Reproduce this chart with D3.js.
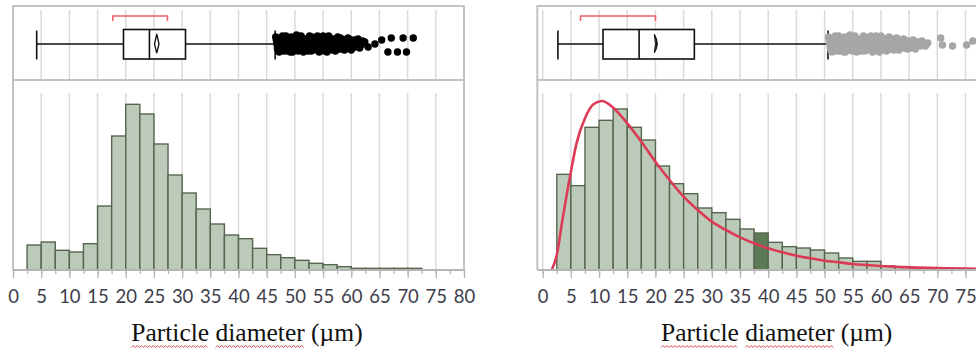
<!DOCTYPE html>
<html><head><meta charset="utf-8">
<script src="https://cdn.jsdelivr.net/npm/d3@7"></script>
<style>html,body{margin:0;padding:0;background:#fff;overflow:hidden}</style>
</head><body>
<svg id="chart" width="976" height="352"></svg>
<script>
// ---------- DATA ----------
const binLower = [2.5,5,7.5,10,12.5,15,17.5,20,22.5,25,27.5,30,32.5,35,37.5,40,42.5,45,47.5,50,52.5,55,57.5,60,62.5,65,67.5,70,72.5,75];
const binWidth = 2.5;
const leftCounts  = [75,84,59,54,79,192,402,497,468,378,285,231,183,138,105,94,65,46,37,29,20,16,10,5,5,5,5,5];
const rightCounts = [287,253,428,449,483,428,390,312,259,229,186,172,152,123,111,83,70,66,60,51,36,26,26,12,8,6,5,4,3,3];
const rightHighlightBin = 37.5;
const fitX = [1.6,2.5,3.5,5,6,7.5,9,10.5,12.5,15,17.5,20,22.5,25,27.5,30,32.5,35,37.5,40,42.5,45,47.5,50,52.5,55,60,65,70,75,80];
const fitY = [0,45,150,295,380,455,497,507,487,440,385,325,270,220,180,145,120,98,80,65,53,43,35,28,23,18,12,8,6,4,3];
const tickValues = [0,5,10,15,20,25,30,35,40,45,50,55,60,65,70,75,80];
const axisTitle = "Particle diameter (µm)";
// box plot summaries [lowWhisker, q1, median, q3, highWhisker], mean, mean CI, shortest half
const leftBox  = [4.2,19.6,24.2,30.6,46.5];
const leftMean = 25.5, leftMeanCI = [25.1,25.9];
const leftShortest = [17.7,27.4];
const rightBox = [2.7,10.7,17.1,26.9,50.6];
const rightMean = 20.2, rightMeanCI = [19.8,20.6];
const rightShortest = [6.7,20.0];
// outliers: [value, vertical jitter]
const leftOutliers = [[46.6,-7],[46.8,0],[47.0,6],[47.3,-3],[47.5,3],[47.8,-8],[48.0,7],[48.2,-1],[48.5,4],[48.7,-5],[49.0,1],[49.2,8],[49.4,-7],[49.7,-2],[49.9,5],[50.2,-6],[50.4,2],[50.6,7],[50.9,-3],[51.1,-8],[51.4,4],[51.6,0],[51.9,6],[52.1,-5],[52.4,2],[52.6,-8],[52.9,7],[53.1,-2],[53.4,4],[53.7,-6],[53.9,0],[54.2,6],[54.5,-4],[54.7,3],[55.0,-8],[55.3,7],[55.5,-1],[55.8,4],[56.1,-6],[56.4,1],[56.7,6],[57.0,-3],[57.3,3],[57.6,-7],[57.9,0],[58.3,5],[58.6,-4],[59.0,2],[59.4,-6],[59.8,4],[60.2,-2],[60.7,3],[61.2,-5],[61.8,1],[62.4,-2],[63.0,3],[64.2,0],[65.4,-4],[66.5,8],[67.1,-6],[68.2,8],[69.2,-6],[69.8,8],[71.0,-6],
  [46.7,-4],[46.9,4],[47.2,8],[47.4,-6],[47.7,1],[47.9,-2],[48.1,3],[48.4,-8],[48.6,7],[48.9,-3],[49.1,5],[49.3,-1],[49.6,8],[49.8,-5],[50.0,2],[50.3,-9],[50.5,6],[50.8,-1],[51.0,4],[51.3,-6],[51.5,8],[51.8,-3],[52.0,2],[52.3,7],[52.5,-4],[52.8,1],[53.0,-7],[53.3,6],[53.5,-1],[53.8,3],[54.0,-8],[54.3,8],[54.6,0],[54.9,-5],[55.2,5],[55.4,-3],[55.7,8],[56.0,-8],[56.2,3],[56.5,-2],[56.9,-5],[57.2,7],[57.5,-1],[57.8,5],[58.1,-6],[58.5,1],[58.8,6],[59.2,-2],[59.6,-5],[60.0,6],[60.5,-4],[61.0,1],[61.5,4],[62.0,-3]];
const rightOutliers = [[50.7,-7],[50.9,0],[51.1,6],[51.4,-3],[51.6,3],[51.9,-8],[52.1,7],[52.4,-1],[52.6,4],[52.9,-5],[53.1,1],[53.4,8],[53.6,-7],[53.9,-2],[54.1,5],[54.4,-6],[54.6,2],[54.9,7],[55.1,-3],[55.4,-8],[55.6,4],[55.9,0],[56.1,6],[56.4,-5],[56.6,2],[56.9,-8],[57.1,7],[57.4,-2],[57.6,4],[57.9,-6],[58.1,0],[58.4,6],[58.6,-4],[58.9,3],[59.1,-8],[59.4,7],[59.6,-1],[59.9,4],[60.1,-6],[60.4,1],[60.6,6],[60.9,-3],[61.1,3],[61.4,-7],[61.6,0],[61.9,5],[62.2,-4],[62.5,2],[62.8,-6],[63.1,4],[63.4,-2],[63.7,3],[64.0,-5],[64.4,1],[64.8,-3],[65.2,4],[65.6,-1],[66.0,3],[66.5,-2],[67.0,2],[67.6,0],[70.6,-6],[70.9,1],[72.7,2],[75.2,1],[76.3,-3],
  [50.8,-4],[51.0,4],[51.3,8],[51.5,-6],[51.8,1],[52.0,-2],[52.2,3],[52.5,-8],[52.7,7],[53.0,-3],[53.2,5],[53.5,-1],[53.7,8],[54.0,-5],[54.2,2],[54.5,-9],[54.7,6],[55.0,-1],[55.2,4],[55.5,-6],[55.7,8],[56.0,-3],[56.2,2],[56.5,7],[56.7,-4],[57.0,1],[57.2,-7],[57.5,6],[57.7,-1],[58.0,3],[58.2,-8],[58.5,8],[58.7,0],[59.0,-5],[59.2,5],[59.5,-3],[59.7,8],[60.0,-8],[60.2,3],[60.5,-2],[60.7,-5],[61.0,7],[61.2,-1],[61.5,5],[61.7,-6],[62.0,1],[62.3,6],[62.6,-2],[62.9,-5],[63.2,6],[63.5,-4],[63.8,1],[64.1,4],[64.4,-3],[64.7,5],[65.0,-1],[65.3,2],[65.7,-4],[66.1,5],[66.3,-2],[66.8,1],[67.3,-3],[67.9,2],[68.3,-1]];

// ---------- LAYOUT ----------
const W = 976;
const svg = d3.select("#chart");
const frameTop = 6, boxBottom = 80, histTop = 93, baseY = 270, boxCY = 44;
const y = d3.scaleLinear().domain([0,531]).range([baseY, histTop]);
const gridColor = "#dadada", frameColor = "#c3c3c3";

function panel(opts) {
  const {x, counts, outliers, box, mean, meanCI, shortest, frameL, frameR, outlierColor, fit, highlight, meanFilled} = opts;
  const g = svg.append("g");
  // gridlines
  const grid = tickValues.filter(v => x(v) > frameL + 2 && x(v) < frameR - 2);
  g.selectAll("line.gb").data(grid).join("line")
    .attr("x1", d => x(d)).attr("x2", d => x(d)).attr("y1", 10).attr("y2", boxBottom)
    .attr("stroke", gridColor).attr("stroke-width", 1.5);
  g.selectAll("line.gh").data(grid).join("line")
    .attr("x1", d => x(d)).attr("x2", d => x(d)).attr("y1", histTop).attr("y2", baseY)
    .attr("stroke", gridColor).attr("stroke-width", 1.5);
  // bars
  const bars = binLower.slice(0, counts.length).map((b, i) => ({b, v: counts[i]}));
  g.selectAll("rect.bar").data(bars).join("rect")
    .attr("x", d => x(d.b)).attr("width", d => x(d.b + binWidth) - x(d.b))
    .attr("y", d => y(d.v)).attr("height", d => baseY - y(d.v))
    .attr("fill", d => d.b === highlight ? "#5b7a55" : "#bccbb9")
    .attr("stroke", "#56654f").attr("stroke-width", 1.4);
  // fit curve
  if (fit) {
    const line = d3.line().x(d => x(d[0])).y(d => y(d[1])).curve(d3.curveMonotoneX);
    g.append("path").datum(fitX.map((v, i) => [v, fitY[i]]))
      .attr("d", line).attr("fill", "none").attr("stroke", "#dc3a55").attr("stroke-width", 2.6);
  }
  // axes
  const minor = d3.range(0, 81, 2.5).filter(v => x(v) >= frameL - 0.5 && x(v) < W);
  g.append("g").attr("transform", `translate(0,${baseY})`)
    .call(d3.axisBottom(x).tickValues(minor).tickSize(4).tickFormat(""))
    .call(a => a.select(".domain").remove())
    .call(a => a.selectAll("line").attr("stroke", "#b5b5b5").attr("stroke-width", 1.3));
  const major = tickValues.filter(v => x(v) < W);
  const ax = g.append("g").attr("transform", `translate(0,${baseY})`)
    .call(d3.axisBottom(x).tickValues(major).tickSize(8).tickPadding(11.5).tickFormat(d3.format("d")));
  ax.select(".domain").remove();
  ax.selectAll("line").attr("stroke", "#b5b5b5").attr("stroke-width", 1.3);
  ax.selectAll("text").attr("font-family", "Lato, 'Open Sans', sans-serif").attr("font-size", 18.5).attr("fill", "#3d3d4a");
  g.append("line").attr("x1", frameL).attr("x2", frameR).attr("y1", baseY).attr("y2", baseY)
    .attr("stroke", "#b5b5b5").attr("stroke-width", 2);
  // frame
  g.append("rect").attr("x", frameL).attr("y", frameTop).attr("width", frameR - frameL).attr("height", boxBottom - frameTop)
    .attr("fill", "none").attr("stroke", frameColor).attr("stroke-width", 2);
  g.append("path").attr("d", `M${frameL},${boxBottom}V${baseY}M${frameR},${boxBottom}V${baseY}`)
    .attr("stroke", frameColor).attr("stroke-width", 2).attr("fill", "none");
  // box plot
  const [lw, q1, md, q3, hw] = box;
  g.append("path").attr("d", `M${x(lw)},${boxCY}H${x(q1)}M${x(q3)},${boxCY}H${x(hw)}M${x(lw)},30.5V59.5M${x(hw)},30.5V59.5`)
    .attr("stroke", "#111").attr("stroke-width", 1.6).attr("fill", "none");
  g.append("rect").attr("x", x(q1)).attr("y", 29.5).attr("width", x(q3) - x(q1)).attr("height", 29.5)
    .attr("fill", "#fff").attr("stroke", "#111").attr("stroke-width", 1.6);
  g.append("line").attr("x1", x(md)).attr("x2", x(md)).attr("y1", 29.5).attr("y2", 59)
    .attr("stroke", "#111").attr("stroke-width", 1.6);
  if (meanFilled) {
    g.append("path").attr("d", `M${x(meanCI[0])},${34}Q${x(meanCI[1]) + 1.5},${boxCY} ${x(meanCI[0])},${53}Q${x(mean)},${boxCY} ${x(meanCI[0])},${34}Z`)
      .attr("fill", "#111").attr("stroke", "#111").attr("stroke-width", 1);
  } else {
    g.append("path").attr("d", `M${x(meanCI[0])},${boxCY}L${x(mean)},${34}L${x(meanCI[1])},${boxCY}L${x(mean)},${53}Z`)
      .attr("fill", "none").attr("stroke", "#111").attr("stroke-width", 1.3);
  }
  // shortest half bracket
  g.append("path").attr("d", `M${x(shortest[0])},21V16H${x(shortest[1])}V21`)
    .attr("fill", "none").attr("stroke", "#f0606a").attr("stroke-width", 1.6);
  // outliers
  g.selectAll("circle.o").data(outliers).join("circle")
    .attr("cx", d => x(d[0])).attr("cy", d => boxCY + d[1]).attr("r", 3.7)
    .attr("fill", outlierColor);
  // title
  const t = g.append("text").attr("x", x(41.5)).attr("y", 341).attr("text-anchor", "middle")
    .attr("font-family", "'Liberation Serif', 'Times New Roman', serif").attr("font-size", 25.5).attr("fill", "#111")
    .text(axisTitle);
  // spell-check squiggles under first two words
  const node = t.node();
  const words = axisTitle.split(" ");
  let idx = 0;
  words.slice(0, 2).forEach(w => {
    const s = node.getStartPositionOfChar(idx).x;
    const e = node.getEndPositionOfChar(idx + w.length - 1).x;
    const pts = [];
    for (let px = s, k = 0; px <= e; px += 2, k++) pts.push([px, 346.5 + (k % 2 ? -1 : 1)]);
    g.append("path").attr("d", d3.line()(pts)).attr("fill", "none").attr("stroke", "#e04848").attr("stroke-width", 1);
    idx += w.length + 1;
  });
}

const xLeft = d3.scaleLinear().domain([0, 80]).range([13, 464]);
const xRight = d3.scaleLinear().domain([0, 80]).range([542.7, 993.7]);

panel({x: xLeft, counts: leftCounts, outliers: leftOutliers, box: leftBox, mean: leftMean, meanCI: leftMeanCI,
  shortest: leftShortest, frameL: xLeft(0), frameR: xLeft(80), outlierColor: "#000", fit: false, highlight: null, meanFilled: false});
panel({x: xRight, counts: rightCounts, outliers: rightOutliers, box: rightBox, mean: rightMean, meanCI: rightMeanCI,
  shortest: rightShortest, frameL: xRight(-0.95), frameR: xRight(84), outlierColor: "#a6a6a6", fit: true, highlight: rightHighlightBin, meanFilled: true});
</script>
</body></html>
